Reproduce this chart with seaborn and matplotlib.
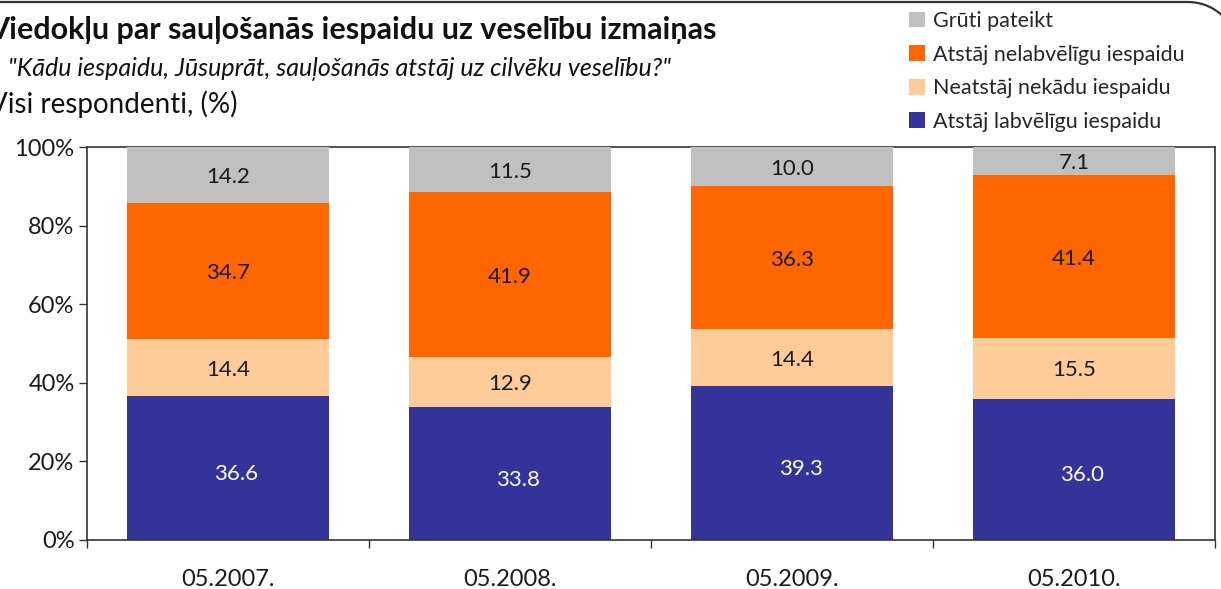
import matplotlib
matplotlib.use("Agg")
import matplotlib.pyplot as plt
import seaborn as sns
import numpy as np
import pandas as pd
from matplotlib.patches import Patch
from matplotlib.lines import Line2D
from matplotlib.ticker import FixedLocator

# ---- data ----
periods = ["05.2007.", "05.2008.", "05.2009.", "05.2010."]
labv = [36.6, 33.8, 39.3, 36.0]          # Atstāj labvēlīgu iespaidu
neatst = [14.4, 12.9, 14.4, 15.5]        # Neatstāj nekādu iespaidu
nelabv = [34.7, 41.9, 36.3, 41.4]        # Atstāj nelabvēlīgu iespaidu
gruti = [14.2, 11.5, 10.0, 7.1]          # Grūti pateikt
series_names = ["Atstāj labvēlīgu iespaidu", "Neatstāj nekādu iespaidu",
                "Atstāj nelabvēlīgu iespaidu", "Grūti pateikt"]
colors = ["#333399", "#FFCC99", "#FF6600", "#C0C0C0"]
label_colors = ["white", "#1a1a1a", "#1a1a1a", "#1a1a1a"]

title = "Viedokļu par sauļošanās iespaidu uz veselību izmaiņas"
subtitle = "\"Kādu iespaidu, Jūsuprāt, sauļošanās atstāj uz cilvēku veselību?\""
base_text = "Visi respondenti, (%)"

sns.set_theme(style="white")
plt.rcParams["font.family"] = ["Lato", "DejaVu Sans"]

W, H = 1221, 589
fig = plt.figure(figsize=(W / 100, H / 100), dpi=100)
ax = fig.add_axes([87 / W, 1 - 540 / H, (1215 - 87) / W, (540 - 147) / H])

vals = np.array([labv, neatst, nelabv, gruti], dtype=float)
totals = vals.sum(axis=0)
pct = vals / totals * 100.0
cum = np.cumsum(pct, axis=0)

# draw from tallest cumulative down so lower segments overlay
for i in range(3, -1, -1):
    df = pd.DataFrame({"period": periods, "value": cum[i]})
    sns.barplot(data=df, x="period", y="value", color=colors[i], width=0.715,
                saturation=1, ax=ax, linewidth=0, zorder=3)

# value labels
for i in range(4):
    for j in range(4):
        ymid = cum[i, j] - pct[i, j] / 2
        dx = 0.03 if i == 0 else 0.0
        dy = -1.5 if i == 0 else -0.6
        ax.text(j + dx, ymid + dy, f"{vals[i, j]:.1f}", ha="center", va="center",
                fontsize=16, color=label_colors[i], zorder=5)

ax.set_xlim(-0.5, 3.5)
ax.set_ylim(0, 100)
ax.set_yticks([0, 20, 40, 60, 80, 100])
ax.set_yticklabels(["0%", "20%", "40%", "60%", "80%", "100%"], fontsize=17, color="#1a1a1a")
ax.set_xticks(range(4))
ax.set_xticklabels(periods, fontsize=17, color="#1a1a1a")
ax.xaxis.set_minor_locator(FixedLocator([-0.5, 0.5, 1.5, 2.5, 3.5]))
ax.tick_params(axis="x", which="major", length=0, pad=21)
ax.tick_params(axis="x", which="minor", length=6, width=1, color="#333333", direction="out", bottom=True)
ax.tick_params(axis="y", which="major", length=6, width=1, color="#333333", direction="out", left=True, pad=3)
ax.set_xlabel("")
ax.set_ylabel("")
for s in ax.spines.values():
    s.set_visible(True)
    s.set_color("#333333")
    s.set_linewidth(1.2)
    s.set_zorder(2)
ax.spines["left"].set_zorder(6)
ax.spines["bottom"].set_zorder(6)
ax.set_facecolor("white")

# titles
fig.text(-12 / W, 1 - 39 / H, title, fontsize=22, fontweight="bold", color="#111111", ha="left", va="baseline")
fig.text(8 / W, 1 - 76 / H, subtitle, fontsize=18, style="italic", color="#111111", ha="left", va="baseline")
fig.text(-11 / W, 1 - 113 / H, base_text, fontsize=20, color="#111111", ha="left", va="baseline")

# legend
order = [3, 2, 1, 0]
handles = [Patch(facecolor=colors[k], edgecolor="none") for k in order]
labels = [series_names[k] for k in order]
leg = fig.legend(handles, labels, loc="upper left", bbox_to_anchor=(894 / W, 1 + 4 / H),
                 frameon=False, fontsize=15.5, handlelength=0.75, handleheight=0.75,
                 handletextpad=0.35, labelspacing=0.63, borderpad=0.2)

# outer frame: top edge with a rounded corner running off the right edge
r = 50.0
cx, cy = 1188.0, 52.0          # arc centre in pixels from top-left
theta = np.linspace(np.pi / 2, 0, 40)
px = np.concatenate([[-20.0], cx + r * np.cos(theta), [cx + r]])
py = np.concatenate([[2.0], cy - r * np.sin(theta), [620.0]])
frame = Line2D(px / W, 1 - py / H, transform=fig.transFigure, color="#333333",
               linewidth=1.6, clip_on=False)
fig.add_artist(frame)

fig.savefig("out.png", dpi=100)
